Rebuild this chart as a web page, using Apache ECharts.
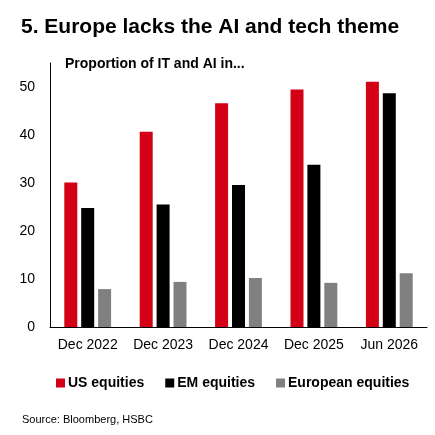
<!DOCTYPE html>
<html>
<head>
<meta charset="utf-8">
<script src="https://cdn.jsdelivr.net/npm/echarts@6/dist/echarts.min.js"></script>
<style>
  html, body { margin: 0; padding: 0; background: #fff; }
  #chart { width: 435px; height: 435px; }
</style>
</head>
<body>
<div id="chart"></div>
<script>
var categories = ['Dec 2022', 'Dec 2023', 'Dec 2024', 'Dec 2025', 'Jun 2026'];
var usEquities = [30.1, 40.7, 46.6, 49.5, 51.1];
var emEquities = [24.8, 25.5, 29.6, 33.8, 48.7];
var euEquities = [7.9, 9.4, 10.2, 9.2, 11.2];
var seriesNames = ['US equities', 'EM equities', 'European equities'];

var chart = echarts.init(document.getElementById('chart'), null, { renderer: 'canvas' });

var option = {
  animation: false,
  backgroundColor: '#fff',
  title: [{
    text: '5. Europe lacks the AI and tech theme',
    left: 16,
    top: 12,
    textStyle: { fontFamily: 'Liberation Sans', fontWeight: 'bold', fontSize: 21, color: '#000' }
  }, {
    text: 'Proportion of IT and AI in...',
    left: 60,
    top: 52,
    textStyle: { fontFamily: 'Liberation Sans', fontWeight: 'bold', fontSize: 14, color: '#000' }
  }, {
    text: 'Source: Bloomberg, HSBC',
    left: 17,
    top: 409,
    textStyle: { fontFamily: 'Liberation Sans', fontWeight: 'normal', fontSize: 11, color: '#000' }
  }],
  legend: {
    data: seriesNames,
    left: 51,
    top: 371,
    icon: 'rect',
    itemWidth: 9,
    itemHeight: 9,
    itemGap: 21,
    textStyle: { fontFamily: 'Liberation Sans', fontWeight: 'bold', fontSize: 14, color: '#000', padding: [0, 0, 0, -2] }
  },
  grid: { left: 50, right: 8, top: 63, bottom: 108 },
  xAxis: {
    type: 'category',
    data: categories,
    axisLine: { lineStyle: { color: '#000', width: 1 } },
    axisTick: { show: false },
    axisLabel: { fontFamily: 'Liberation Sans', fontSize: 14, color: '#000', margin: 11, interval: 0 }
  },
  yAxis: {
    type: 'value',
    min: 0,
    max: 55,
    interval: 10,
    axisLine: { show: true, lineStyle: { color: '#000', width: 1 } },
    axisTick: { show: false },
    splitLine: { show: false },
    axisLabel: { fontFamily: 'Liberation Sans', fontSize: 14, color: '#000', margin: 15, showMaxLabel: false }
  },
  series: [{
    name: seriesNames[0], type: 'bar', data: usEquities,
    barWidth: 13, barGap: '30%',
    itemStyle: { color: '#D40016' }
  }, {
    name: seriesNames[1], type: 'bar', data: emEquities,
    barWidth: 13, barGap: '30%',
    itemStyle: { color: '#000000' }
  }, {
    name: seriesNames[2], type: 'bar', data: euEquities,
    barWidth: 13, barGap: '30%',
    itemStyle: { color: '#808080' }
  }]
};

chart.setOption(option);
</script>
</body>
</html>
